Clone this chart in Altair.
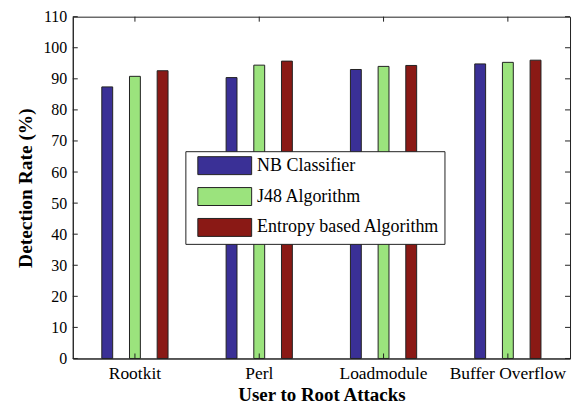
import altair as alt
import pandas as pd

categories = ["Rootkit", "Perl", "Loadmodule", "Buffer Overflow"]
series = ["NB Classifier", "J48 Algorithm", "Entropy based Algorithm"]
nb = [87.4, 90.4, 93.0, 94.8]
j48 = [90.8, 94.4, 94.0, 95.3]
entropy = [92.6, 95.7, 94.3, 96.0]
y_ticks = list(range(0, 111, 10))
colors = ["#3a3096", "#9be37d", "#8a1915"]

rows = []
for s, vals in zip(series, [nb, j48, entropy]):
    for c, v in zip(categories, vals):
        rows.append({"attack": c, "method": s, "rate": v})
df = pd.DataFrame(rows)
ticks_df = pd.DataFrame({"rate": y_ticks})
cat_df = pd.DataFrame({"attack": categories})

W, H = 499, 343
FONT = "Liberation Serif"

xscale = alt.Scale(domain=categories, paddingInner=0.332, paddingOuter=0.166)
yscale = alt.Scale(domain=[0, 110], nice=False)

xaxis = alt.Axis(title="User to Root Attacks", labelAngle=0, tickSize=0,
                 labelPadding=6, titlePadding=4, labelFontSize=17.5,
                 titleFontSize=19, titleFontWeight="bold")
yaxis = alt.Axis(title="Detection Rate (%)", values=y_ticks, tickSize=0,
                 labelPadding=6, titlePadding=7, labelFontSize=16,
                 labelOverlap=False, labelFlush=False,
                 titleFontSize=19.5, titleFontWeight="bold", grid=False)

bars = alt.Chart(df).mark_bar(stroke="#222222", strokeWidth=1).encode(
    x=alt.X("attack:N", sort=categories, scale=xscale, axis=xaxis, title="User to Root Attacks"),
    xOffset=alt.XOffset("method:N", sort=series,
                        scale=alt.Scale(domain=series, paddingInner=0.607, paddingOuter=0.3035)),
    y=alt.Y("rate:Q", scale=yscale, axis=yaxis, title="Detection Rate (%)"),
    color=alt.Color("method:N", sort=series,
                    scale=alt.Scale(domain=series, range=colors),
                    legend=alt.Legend(title=None, orient="none", legendX=113, legendY=135,
                                      symbolType="M-0.222,-1L5.778,-1L5.778,1L-0.222,1Z",
                                      symbolSize=324, symbolStrokeColor="#222222",
                                      symbolStrokeWidth=1, labelFontSize=18, labelFont=FONT,
                                      labelColor="black", labelLimit=400,
                                      strokeColor="#222222", fillColor="white",
                                      padding=5, rowPadding=8, labelOffset=48,
                                      symbolOpacity=1)),
)

left_ticks = alt.Chart(ticks_df).mark_rule(color="#222222").encode(
    y=alt.Y("rate:Q", scale=yscale, axis=yaxis, title="Detection Rate (%)"),
    x=alt.value(0), x2=alt.value(5))
right_ticks = alt.Chart(ticks_df).mark_rule(color="#222222").encode(
    y=alt.Y("rate:Q", scale=yscale, axis=yaxis, title="Detection Rate (%)"),
    x=alt.value(W - 5), x2=alt.value(W))
top_ticks = alt.Chart(cat_df).mark_rule(color="#222222").encode(
    x=alt.X("attack:N", sort=categories, scale=xscale, axis=xaxis, title="User to Root Attacks"),
    y=alt.value(0), y2=alt.value(5))
bottom_ticks = alt.Chart(cat_df).mark_rule(color="#222222").encode(
    x=alt.X("attack:N", sort=categories, scale=xscale, axis=xaxis, title="User to Root Attacks"),
    y=alt.value(H - 5), y2=alt.value(H))

chart = alt.layer(bars, left_ticks, right_ticks, top_ticks, bottom_ticks).properties(
    width=W, height=H,
    autosize=alt.AutoSizeParams(type="none"),
    padding={"left": 65, "top": 8, "right": 5, "bottom": 50},
).configure_view(stroke="#222222", strokeWidth=1).configure_axis(
    labelFont=FONT, titleFont=FONT, labelColor="black", titleColor="black",
    domainColor="#222222", domain=True
)

chart.save("out.html", embed_options={"renderer": "svg", "actions": False})
